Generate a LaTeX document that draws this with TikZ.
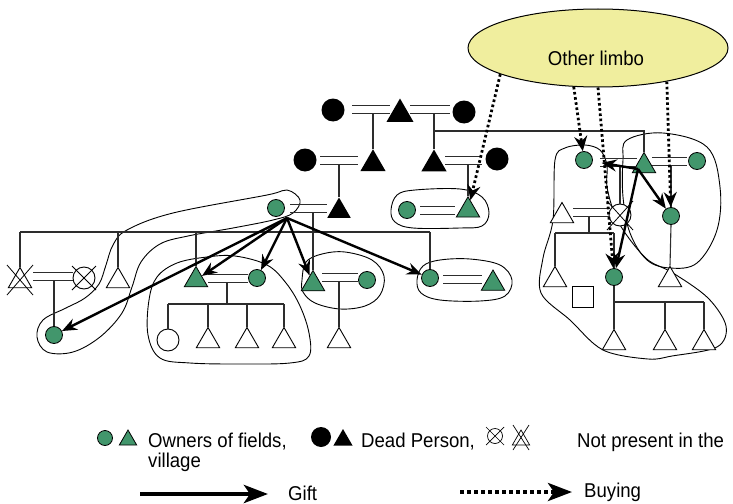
\documentclass[tikz,border=0pt]{standalone}
\usepackage{fontspec}
\setmainfont{Liberation Sans}
\newfontfamily\labfont[FakeStretch=0.93]{Liberation Sans}
\usetikzlibrary{shapes.geometric,arrows.meta,calc}
\definecolor{symgreen}{RGB}{66,150,108}
\definecolor{limbofill}{RGB}{240,238,158}
\definecolor{linecol}{RGB}{45,45,45}
\newcommand{\marline}[3]{%
  \draw[mline] (#1,#3-4) -- (#2,#3-4);
  \draw[mline] (#1,#3+4) -- (#2,#3+4);}
\begin{document}
\begin{tikzpicture}[x=1pt,y=-1pt,
  gc/.style={circle, draw=black, line width=0.8pt, fill=symgreen, minimum size=17pt, inner sep=0pt},
  gt/.style={regular polygon, regular polygon sides=3, draw=black, line width=0.8pt, fill=symgreen, minimum size=27pt, inner sep=0pt},
  dc/.style={circle, fill=black, minimum size=23pt, inner sep=0pt},
  dt/.style={regular polygon, regular polygon sides=3, fill=black, minimum size=29pt, inner sep=0pt},
  wc/.style={circle, draw=black, line width=0.9pt, fill=white, minimum size=22pt, inner sep=0pt},
  wt/.style={regular polygon, regular polygon sides=3, draw=black, line width=0.9pt, fill=white, minimum size=27pt, inner sep=0pt},
  sqr/.style={rectangle, draw=black, line width=0.9pt, minimum size=21pt, inner sep=0pt},
  mline/.style={draw=linecol, line width=1pt},
  tline/.style={draw=linecol, line width=1.1pt},
  xline/.style={draw=black, line width=0.8pt},
  hull/.style={draw=black, line width=0.9pt},
  gift/.style={draw=black, line width=2.4pt, -{Stealth[length=15pt,width=12pt,inset=5pt]}},
  buy/.style={draw=black, line width=2.8pt, dash pattern=on 2.6pt off 2.6pt, -{Stealth[length=15pt,width=13pt,inset=5pt]}},
  lab/.style={font=\labfont\fontsize{20pt}{24pt}\selectfont, inner sep=0pt}
]
\useasboundingbox (0,0) rectangle (733,503);

% ---------- hulls ----------
\draw[hull] plot[smooth cycle, tension=0.6] coordinates {(287,190) (267,195) (173,213) (127,230) (113,245) (106,265) (99,284) (85,298) (66,308) (43,320) (37,337) (47,352) (73,352) (100,337) (122,313) (132,287) (141,262) (160,244) (188,236) (233,228) (273,220) (293,213) (300,200)};
\draw[hull] plot[smooth cycle, tension=0.6] coordinates {(149,300) (157,277) (177,263) (207,257) (235,256) (267,265) (286,283) (300,306) (309,333) (309,356) (290,363) (240,364) (190,363) (160,358) (148,335)};
\draw[hull] plot[smooth cycle, tension=0.6] coordinates {(302,280) (306,262) (322,254) (345,252) (372,260) (384,276) (380,295) (365,306) (340,309) (315,303) (303,292)};
\draw[hull] plot[smooth cycle, tension=0.6] coordinates {(417,280) (423,266) (440,260) (470,259) (500,265) (512,280) (505,296) (480,301) (440,300) (421,293)};
\draw[hull] plot[smooth cycle, tension=0.6] coordinates {(391,210) (397,195) (415,190) (460,189) (482,197) (489,213) (482,226) (460,228) (413,228) (395,222)};
\draw[hull] plot[smooth cycle, tension=0.55] coordinates {(555,160) (565,148) (585,145) (600,150) (607,165) (607,187) (615,215) (628,237) (648,260) (673,273) (708,298) (726,326) (717,347) (672,356) (648,359) (603,350) (570,320) (541,293) (543,258) (553,220)};
\draw[hull] plot[smooth cycle, tension=0.6] coordinates {(627,140) (663,133) (707,147) (720,187) (717,230) (697,263) (670,268) (647,260) (630,233) (623,197) (623,160)};

% ---------- limbo ----------
\node[ellipse, draw=black, line width=1pt, fill=limbofill, minimum width=260pt, minimum height=78pt, inner sep=0pt] (limbo) at (598,48) {};
\node[lab] (limbolbl) at (596,58) {Other limbo};

% ---------- generation 0 ----------
\node[dc] (d1) at (333,110) {};
\node[dt, minimum size=31pt] (d2) at (400,114) {};
\node[dc] (d3) at (464,112) {};
% ---------- generation 1 ----------
\node[dc] (d4) at (305,160) {};
\node[dt] (d5) at (373,163.8) {};
\node[dt] (d6) at (434,164) {};
\node[dc] (d7) at (497,159) {};
% ---------- generation 2 ----------
\node[gc] (g1) at (276,208) {};
\node[dt, minimum size=27pt] (d8) at (339,211) {};
\node[gc] (g2) at (407,210) {};
\node[gt] (g3) at (468,210.3) {};
% ---------- generation 3 ----------
\node[wt] (xt1) at (20,281) {};
\node[wc] (xc1) at (84,278) {};
\node[gc] (g4) at (54,335) {};
\node[wt] (t1) at (118,281) {};
\node[gt] (g5) at (196,280) {};
\node[gc] (g6) at (257,278) {};
\node[wc] (c1) at (168,340) {};
\node[wt] (t2) at (208,341) {};
\node[wt] (t3) at (247,341) {};
\node[wt] (t4) at (284,341) {};
\node[gt] (g7) at (313,284) {};
\node[gc] (g8) at (367,280) {};
\node[wt] (t5) at (339,341) {};
\node[gc] (g9) at (430,278) {};
\node[gt] (g10) at (493,283.5) {};
% ---------- right cluster ----------
\node[gc] (g11) at (584,160) {};
\node[gt] (g12) at (644,166) {};
\node[gc] (g13) at (697,161) {};
\node[gc] (g14) at (671,216) {};
\node[wt] (t6) at (670,280) {};
\node[wt] (t7) at (562,216) {};
\node[wc] (xc2) at (620,215) {};
\node[wt] (t8) at (555,280) {};
\node[gc] (g15) at (614,277) {};
\node[sqr] (sq) at (583,297) {};
\node[wt] (t9) at (614,343) {};
\node[wt] (t10) at (665,343) {};
\node[wt] (t11) at (704,343) {};

% crosses
\draw[xline] ($(xt1)+(-13,-16)$) -- ($(xt1)+(13,14)$);
\draw[xline] ($(xt1)+(13,-16)$) -- ($(xt1)+(-13,14)$);
\draw[xline] ($(xc1)+(-12,-12)$) -- ($(xc1)+(12,12)$);
\draw[xline] ($(xc1)+(12,-12)$) -- ($(xc1)+(-12,12)$);
\draw[xline] ($(xc2)+(-13,-14)$) -- ($(xc2)+(13,15)$);
\draw[xline] ($(xc2)+(13,-14)$) -- ($(xc2)+(-13,15)$);

% ---------- family lines ----------
\coordinate (bar0) at (0,131);
\coordinate (bar2) at (0,232);
\coordinate (bar3a) at (0,304);
\coordinate (barr1) at (0,233);
\coordinate (barr2) at (0,302);
\marline{352}{390}{109}
\marline{410}{450}{109}
\draw[tline] (373,113) -- (d5.corner 1);
\draw[tline] (434,113) -- (d6.corner 1);
\draw[tline] (d6.corner 1 |- bar0) -- (g12.corner 1 |- bar0) -- (g12.corner 1);

\marline{320}{358}{160.5}
\draw[tline] (339,164.5) -- (d8.corner 1);
\marline{445}{482}{160}
\draw[tline] (468,164) -- (g3.corner 1);

\marline{290}{327}{208}
\draw[tline] (313,212) -- (g7.corner 1);
\marline{420}{455}{210.5}
\draw[tline] (xt1.corner 1 |- bar2) -- (g9.north |- bar2);
\draw[tline] (xt1.corner 1 |- bar2) -- (xt1.corner 1);
\draw[tline] (t1.corner 1 |- bar2) -- (t1.corner 1);
\draw[tline] (g5.corner 1 |- bar2) -- (g5.corner 1);
\draw[tline] (g9.north |- bar2) -- (g9.north);

\marline{33}{73}{276}
\draw[tline] (54,280) -- (g4.north);
\marline{208}{248}{278.5}
\draw[tline] (227,282.5) -- (227,304);
\draw[tline] (c1.north |- bar3a) -- (t4.corner 1 |- bar3a);
\draw[tline] (c1.north |- bar3a) -- (c1.north);
\draw[tline] (t2.corner 1 |- bar3a) -- (t2.corner 1);
\draw[tline] (t3.corner 1 |- bar3a) -- (t3.corner 1);
\draw[tline] (t4.corner 1 |- bar3a) -- (t4.corner 1);
\marline{322}{358}{277.5}
\draw[tline] (339,281.5) -- (t5.corner 1);
\marline{443}{482}{279}

\marline{600}{637}{162}
\draw[tline] (620,166) -- (xc2.north);
\marline{652}{687}{161}
\draw[tline] (671,165) -- (g14.north);
\draw[tline] (g14.south) -- (t6.corner 1);
\marline{573}{610}{212.5}
\draw[tline] (589,216.5) -- (589,233);
\draw[tline] (t8.corner 1 |- barr1) -- (g15.north |- barr1);
\draw[tline] (t8.corner 1 |- barr1) -- (t8.corner 1);
\draw[tline] (g15.north |- barr1) -- (g15.north);
\draw[tline] (g15.south) -- (t9.corner 1);
\draw[tline] (g15.south |- barr2) -- (t11.corner 1 |- barr2);
\draw[tline] (t10.corner 1 |- barr2) -- (t10.corner 1);
\draw[tline] (t11.corner 1 |- barr2) -- (t11.corner 1);

% ---------- gift arrows ----------
\coordinate (gs) at ($(g1)+(11,10)$);
\draw[gift] (gs) -- (g4);
\draw[gift] (gs) -- (g5);
\draw[gift] (gs) -- (g6);
\draw[gift] (gs) -- (g7);
\draw[gift] (gs) -- (g9);
\coordinate (rs) at ($(g12)+(-6,3)$);
\draw[gift, shorten >=9pt] (rs) -- (g11);
\draw[gift] (rs) -- (g14);
\draw[gift] (rs) -- (g15);

% ---------- buying arrows ----------
\draw[buy] (limbo.195) -- (g3);
\draw[buy] (limbo.238) -- (g11);
\draw[buy] (limbo.270) -- (g15);
\draw[buy] (limbo.334) -- (g14);

% ---------- legend ----------
\node[gc, minimum size=15pt] (lg1) at (105,438) {};
\node[gt, minimum size=20pt] (lg2) at (128,440) {};
\node[lab, anchor=base west] (lt1) at (148,447) {Owners of fields,};
\node[lab, anchor=base west] (lt1b) at (148,467) {village};
\node[dc, minimum size=20pt] (lb1) at (321,437) {};
\node[dt, minimum size=22pt] (lb2) at (343,440) {};
\node[lab, anchor=base west] (lt2) at (361,447) {Dead Person,};
\node[wc, minimum size=15pt, line width=0.7pt] (lx1) at (495,436) {};
\draw[xline, line width=0.7pt] ($(lx1)+(-9,-9)$) -- ($(lx1)+(9,9)$);
\draw[xline, line width=0.7pt] ($(lx1)+(9,-9)$) -- ($(lx1)+(-9,9)$);
\node[wt, minimum size=20pt, line width=0.7pt] (lx2) at (521,440) {};
\draw[xline, line width=0.7pt] ($(lx2)+(-8,-15)$) -- ($(lx2)+(8,10)$);
\draw[xline, line width=0.7pt] ($(lx2)+(8,-15)$) -- ($(lx2)+(-8,10)$);
\node[lab, anchor=base west] (lt3) at (577,447) {Not present in the};

\coordinate (ga1) at (140,494);
\coordinate (ga2) at (268,494);
\draw[draw=black, line width=4.5pt, -{Stealth[length=24pt,width=18pt,inset=6pt]}] (ga1) -- (ga2);
\node[lab, anchor=base west] (lt4) at (288,500) {Gift};
\coordinate (ba1) at (460,492);
\coordinate (ba2) at (572,492);
\draw[draw=black, line width=4pt, dash pattern=on 4pt off 3pt, -{Stealth[length=24pt,width=18pt,inset=6pt]}] (ba1) -- (ba2);
\node[lab, anchor=base west] (lt5) at (584,497) {Buying};
\end{tikzpicture}
\end{document}
